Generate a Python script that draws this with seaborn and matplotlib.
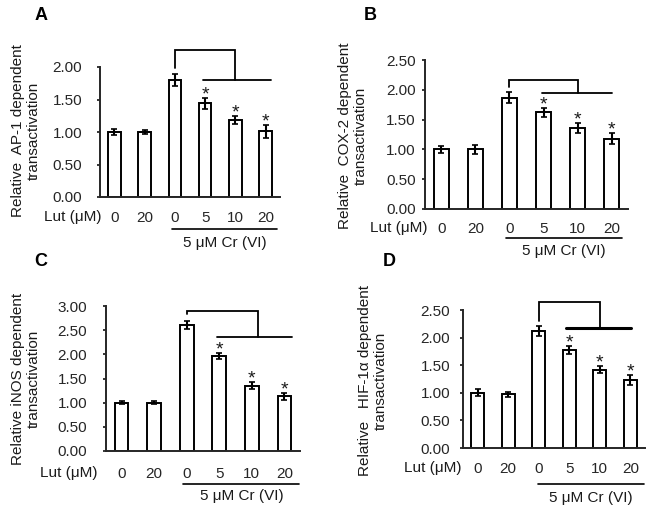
import numpy as np
import pandas as pd
import matplotlib
matplotlib.use("Agg")
import matplotlib.pyplot as plt
from matplotlib.lines import Line2D
import seaborn as sns

# data (mean +/- error, relative to control)
lut_dose = ["0", "20", "0", "5", "10", "20"]
conditions = ["Lut0", "Lut20", "Cr+Lut0", "Cr+Lut5", "Cr+Lut10", "Cr+Lut20"]
significant = [False, False, False, True, True, True]

ap1_mean = [1.00, 1.00, 1.80, 1.44, 1.19, 1.01]
ap1_err = [0.05, 0.03, 0.09, 0.08, 0.06, 0.10]
cox2_mean = [1.00, 1.00, 1.87, 1.62, 1.36, 1.18]
cox2_err = [0.06, 0.07, 0.09, 0.08, 0.09, 0.09]
inos_mean = [1.00, 1.00, 2.61, 1.97, 1.35, 1.13]
inos_err = [0.03, 0.03, 0.08, 0.06, 0.07, 0.08]
hif_mean = [1.00, 0.97, 2.12, 1.78, 1.42, 1.23]
hif_err = [0.06, 0.05, 0.09, 0.07, 0.07, 0.09]

sns.set_style("ticks")
plt.rcParams["font.family"] = ["Liberation Sans", "DejaVu Sans"]
plt.rcParams["text.color"] = "#1a1a1a"

W, H = 654, 512
fig = plt.figure(figsize=(W / 100, H / 100), dpi=100)


def fx(x):
    return x / W


def fy(y):
    return 1 - y / H


# per-panel layout in pixels: axes box, label positions, bracket (data coords)
panels = [
    dict(letter="A", mean=ap1_mean, err=ap1_err, ymax=2.0,
         box=(100, 280, 67, 197), letter_xy=(41, 15), ypad=10.4, xpad=10,
         ylabel="Relative  AP-1 dependent\ntransactivation", ylab_xy=(26, 131),
         lut_xy=(102, 217), line=(172, 277, 229), cr_xy=(225, 243),
         bracket=(2.26, 1.80, 1.98, 4.0, 2.94, 5.17), lw_low=1.3),
    dict(letter="B", mean=cox2_mean, err=cox2_err, ymax=2.5,
         box=(425, 628, 60, 209), letter_xy=(370, 15), ypad=4, xpad=9.4,
         ylabel="Relative  COX-2 dependent\ntransactivation", ylab_xy=(353, 136),
         lut_xy=(427, 228), line=(506, 622, 238), cr_xy=(564, 251),
         bracket=(2.16, 1.94, 2.04, 4.0, 2.96, 5.0), lw_low=1.3),
    dict(letter="C", mean=inos_mean, err=inos_err, ymax=3.0,
         box=(106, 300, 306, 451), letter_xy=(41, 262), ypad=11, xpad=11.5,
         ylabel="Relative iNOS dependent\ntransactivation", ylab_xy=(26, 379),
         lut_xy=(98, 473), line=(183, 299, 484), cr_xy=(242, 496),
         bracket=(2.89, 2.35, 2.83, 4.2, 2.93, 5.24), lw_low=1.3),
    dict(letter="D", mean=hif_mean, err=hif_err, ymax=2.5,
         box=(463, 645, 310, 448), letter_xy=(389, 262), ypad=6.8, xpad=10,
         ylabel="Relative   HIF-1\u03b1 dependent\ntransactivation", ylab_xy=(373, 381),
         lut_xy=(462, 468), line=(538, 644, 484), cr_xy=(591, 498),
         bracket=(2.65, 2.17, 2.30, 4.0, 2.90, 5.03), lw_low=2.2),
]

fs = 11

for p in panels:
    x0, x1, y0, y1 = p["box"]
    ax = fig.add_axes([fx(x0), fy(y1), fx(x1 - x0), (y1 - y0) / H])
    df = pd.DataFrame({"cond": conditions, "value": p["mean"]})
    sns.barplot(data=df, x="cond", y="value", order=conditions, color="white",
                edgecolor="black", linewidth=1.4, width=0.42, errorbar=None,
                ax=ax)
    ax.errorbar(np.arange(len(conditions)), p["mean"], yerr=p["err"],
                fmt="none", ecolor="black", elinewidth=1.5, capsize=2,
                capthick=1.2)
    for i, (m, e, s) in enumerate(zip(p["mean"], p["err"], significant)):
        if s:
            ax.annotate("*", (i, m + e), xytext=(0, -4),
                        textcoords="offset points", ha="center", va="bottom",
                        fontsize=14)

    ax.set_xlim(-0.48, 5.48)
    ax.set_ylim(0, p["ymax"])
    yt = np.arange(0, p["ymax"] + 0.01, 0.5)
    ax.set_yticks(yt)
    ax.set_yticklabels([f"{v:.2f}" for v in yt], fontsize=fs)
    ax.set_xticks(range(len(conditions)))
    ax.set_xticklabels(lut_dose, fontsize=fs)
    ax.tick_params(axis="x", length=0, pad=p["xpad"])
    ax.tick_params(axis="y", length=2.5, width=1.3, pad=p["ypad"])
    ax.set_xlabel("")
    ax.set_ylabel("")
    sns.despine(ax=ax)
    ax.spines["left"].set_linewidth(1.4)
    ax.spines["bottom"].set_linewidth(1.4)

    # significance bracket
    top, low, left_end, rx, lx0, lx1 = p["bracket"]
    ax.plot([2, 2, rx, rx], [left_end, top, top, low], color="black",
            lw=1.3, clip_on=False, solid_joinstyle="miter")
    ax.plot([lx0, lx1], [low, low], color="black", lw=p["lw_low"], clip_on=False)

    # labels outside the axes
    fig.text(fx(p["letter_xy"][0]), fy(p["letter_xy"][1]), p["letter"],
             ha="center", va="center", fontsize=13, fontweight="bold",
             color="black")
    fig.text(fx(p["ylab_xy"][0]), fy(p["ylab_xy"][1]), p["ylabel"],
             rotation=90, ha="center", va="center", multialignment="center",
             fontsize=fs, linespacing=1.1)
    fig.text(fx(p["lut_xy"][0]), fy(p["lut_xy"][1]), "Lut (\u03bcM)",
             ha="right", va="center", fontsize=fs)
    lx_a, lx_b, ly = p["line"]
    fig.add_artist(Line2D([fx(lx_a), fx(lx_b)], [fy(ly), fy(ly)],
                          color="black", lw=1.2))
    fig.text(fx(p["cr_xy"][0]), fy(p["cr_xy"][1]), "5 \u03bcM Cr (VI)",
             ha="center", va="center", fontsize=fs)

fig.savefig("out.png", dpi=100)
